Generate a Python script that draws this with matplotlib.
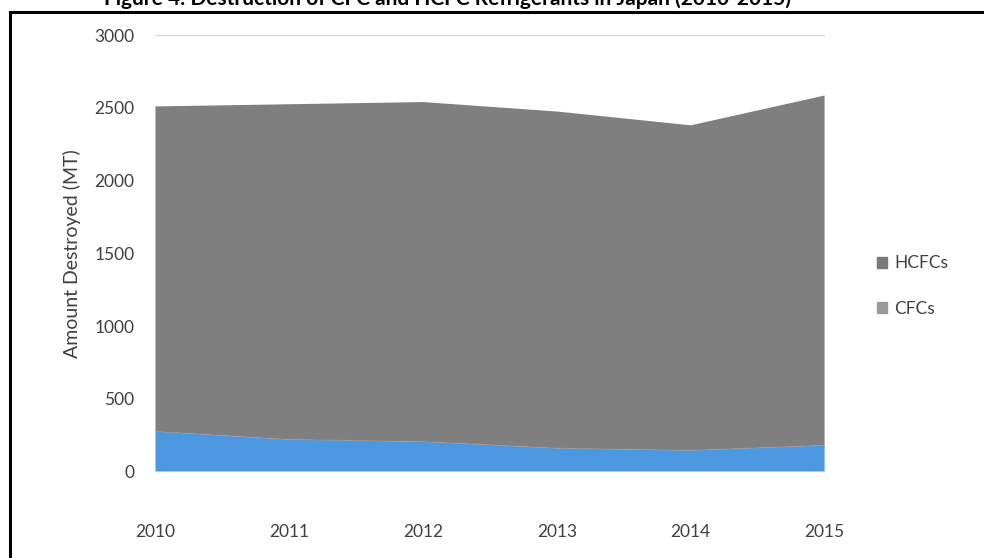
import matplotlib.pyplot as plt
import numpy as np

plt.rcParams["font.family"] = ["Lato", "DejaVu Sans"]

years = ["2010", "2011", "2012", "2013", "2014", "2015"]
total = [2510, 2525, 2540, 2475, 2380, 2585]
cfcs = [275, 220, 205, 160, 145, 180]
hcfcs = [t - c for t, c in zip(total, cfcs)]

x = np.arange(len(years))

fig = plt.figure(figsize=(9.84, 5.58), dpi=100)
ax = fig.add_axes([0.158, 0.155, 0.68, 0.782])

ax.axhline(3000, color="#d9d9d9", lw=1, zorder=0)
ax.stackplot(x, cfcs, hcfcs, colors=["#4b98e0", "#7f7f7f"], zorder=2)
ax.plot(x, cfcs, color="#c8895a", lw=1.2, alpha=0.35, zorder=3)

ax.set_xlim(0, len(years) - 1)
ax.set_ylim(0, 3000)
ax.set_xticks(x, years)
ax.set_yticks(range(0, 3001, 500))
ax.tick_params(length=0, labelsize=12.5, colors="#404040")
ax.tick_params(axis="x", pad=38)
ax.tick_params(axis="y", pad=15)
for s in ax.spines.values():
    s.set_visible(False)
ax.set_ylabel("Amount Destroyed (MT)", fontsize=14, color="#404040", labelpad=10)

# legend squares
h1 = plt.Rectangle((0, 0), 1, 1, color="#7a7a7a")
h2 = plt.Rectangle((0, 0), 1, 1, color="#9a9a9a")
fig.legend([h1, h2], ["HCFCs", "CFCs"], loc="center left",
           bbox_to_anchor=(0.875, 0.487), frameon=False, fontsize=12.5,
           handlelength=0.6, handleheight=0.6, handletextpad=0.4,
           labelspacing=1.7, labelcolor="#404040")

# page frame and title running off the top edge
fig.add_artist(plt.Line2D([0.010, 0.010], [0.0, 0.979], color="black", lw=2.2,
                          transform=fig.transFigure))
fig.add_artist(plt.Line2D([0.010, 1.0], [0.979, 0.979], color="black", lw=2.2,
                          transform=fig.transFigure))
fig.text(0.455, 0.983,
         "Figure 4: Destruction of CFC and HCFC Refrigerants in Japan (2010-2015)",
         ha="center", va="bottom", fontsize=15, fontweight="bold", color="black")

fig.savefig("out.png", dpi=100)
